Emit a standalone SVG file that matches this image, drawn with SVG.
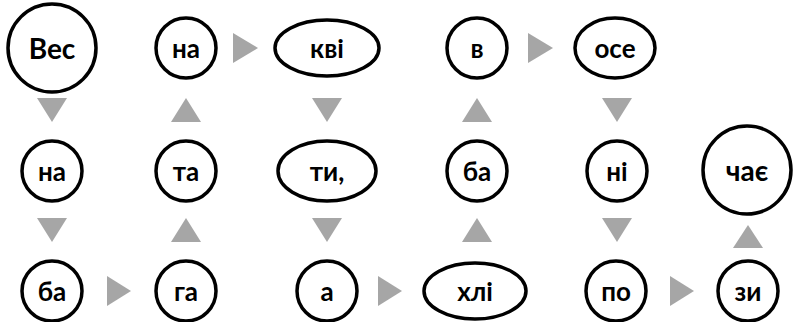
<svg xmlns="http://www.w3.org/2000/svg" width="796" height="322" viewBox="0 0 796 322">
<style>
.n{fill:#fff;stroke:#000;stroke-width:3.5}
.t{font-family:Lato,"Open Sans","DejaVu Sans",sans-serif;font-weight:bold;font-size:26px;fill:#000;text-anchor:middle;dominant-baseline:central}
.b{font-size:28px}
.a{fill:#a6a6a6}
</style>
<rect width="796" height="322" fill="#fff"/>
<g id="connectors">
<polygon class="a" points="233,33 258,48 233,63"/>
<polygon class="a" points="528,33 553,48 528,63"/>
<polygon class="a" points="37,98 67,98 52,122"/>
<polygon class="a" points="171,122 201,122 186,98"/>
<polygon class="a" points="312,98 342,98 327,122"/>
<polygon class="a" points="462,122 492,122 477,98"/>
<polygon class="a" points="602,98 632,98 617,122"/>
<polygon class="a" points="37,218 67,218 52,242"/>
<polygon class="a" points="171,242 201,242 186,218"/>
<polygon class="a" points="312,218 342,218 327,242"/>
<polygon class="a" points="462,242 492,242 477,218"/>
<polygon class="a" points="602,218 632,218 617,242"/>
<polygon class="a" points="733,248 763,248 748,225"/>
<polygon class="a" points="107,276 131,291 107,306"/>
<polygon class="a" points="378,276 402,291 378,306"/>
<polygon class="a" points="670,276 694,291 670,306"/>
</g>
<g id="n1"><circle class="n" cx="52" cy="48" r="44"/><text class="t b" x="52" y="48">Вес</text></g>
<g id="n2"><circle class="n" cx="52" cy="171" r="30"/><text class="t" x="52" y="171">на</text></g>
<g id="n3"><circle class="n" cx="52" cy="291" r="30"/><text class="t" x="52" y="291">ба</text></g>
<g id="n4"><circle class="n" cx="186" cy="291" r="30"/><text class="t" x="186" y="291">га</text></g>
<g id="n5"><circle class="n" cx="186" cy="171" r="30"/><text class="t" x="186" y="171">та</text></g>
<g id="n6"><circle class="n" cx="186" cy="48" r="30"/><text class="t" x="186" y="48">на</text></g>
<g id="n7"><ellipse class="n" cx="327" cy="48" rx="52" ry="28"/><text class="t" x="327" y="48">кві</text></g>
<g id="n8"><ellipse class="n" cx="327" cy="171" rx="49" ry="30"/><text class="t" x="327" y="171">ти,</text></g>
<g id="n9"><circle class="n" cx="327" cy="291" r="30"/><text class="t" x="327" y="291">а</text></g>
<g id="n10"><ellipse class="n" cx="475" cy="291" rx="51" ry="28"/><text class="t" x="475" y="291">хлі</text></g>
<g id="n11"><circle class="n" cx="477" cy="171" r="30"/><text class="t" x="477" y="171">ба</text></g>
<g id="n12"><circle class="n" cx="477" cy="48" r="30"/><text class="t" x="477" y="48">в</text></g>
<g id="n13"><ellipse class="n" cx="615" cy="48" rx="40" ry="30"/><text class="t" x="615" y="48">осе</text></g>
<g id="n14"><circle class="n" cx="617" cy="171" r="30"/><text class="t" x="617" y="171">ні</text></g>
<g id="n15"><circle class="n" cx="616" cy="291" r="30"/><text class="t" x="616" y="291">по</text></g>
<g id="n16"><circle class="n" cx="748" cy="291" r="30"/><text class="t" x="748" y="291">зи</text></g>
<g id="n17"><circle class="n" cx="747" cy="170" r="44"/><text class="t b" x="747" y="170">чає</text></g>
</svg>
